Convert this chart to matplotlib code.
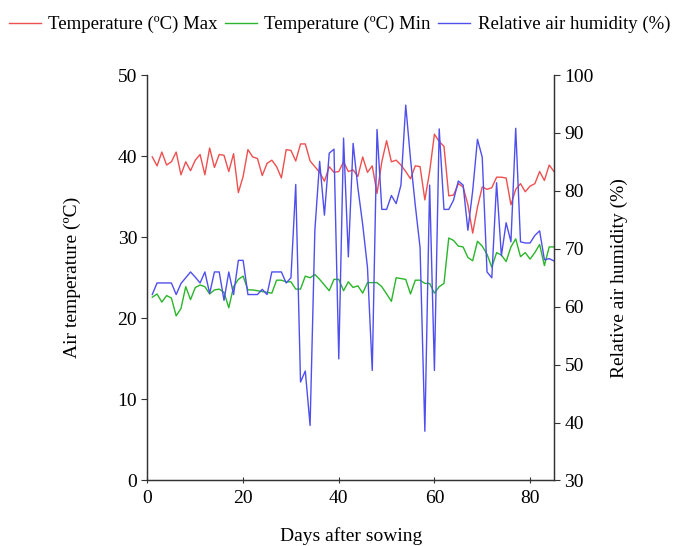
import matplotlib
matplotlib.use("Agg")
import matplotlib.pyplot as plt

plt.rcParams["font.family"] = ["Liberation Serif", "DejaVu Serif"]
plt.rcParams["font.size"] = 14

# daily records, days 1..85
days = list(range(1, 86))

t_max = [39.9, 38.8, 40.5, 38.9, 39.3, 40.5, 37.7, 39.3, 38.2, 39.5,
         40.2, 37.7, 41.0, 38.6, 40.2, 40.1, 38.1, 40.3, 35.5, 37.5,
         40.8, 39.9, 39.7, 37.6, 39.1, 39.5, 38.7, 37.3, 40.8, 40.7,
         39.4, 41.5, 41.5, 39.4, 38.7, 38.0, 36.9, 38.7, 38.0, 38.1,
         39.3, 38.1, 38.3, 37.5, 39.9, 38.0, 38.8, 35.4, 39.3, 41.9,
         39.3, 39.5, 38.9, 38.1, 37.2, 38.8, 38.7, 34.6, 38.1, 42.7,
         41.8, 41.2, 35.1, 35.2, 36.6, 36.2, 34.0, 30.5, 33.7, 36.2,
         35.9, 36.1, 37.4, 37.4, 37.3, 34.0, 35.9, 36.6, 35.6, 36.3,
         36.6, 38.1, 37.0, 38.9, 38.1]

t_min = [22.6, 23.0, 22.0, 22.8, 22.5, 20.3, 21.2, 23.9, 22.3, 23.8,
         24.1, 23.9, 23.0, 23.5, 23.6, 23.2, 21.3, 23.9, 24.8, 25.2,
         23.5, 23.5, 23.4, 23.3, 23.2, 23.1, 24.7, 24.7, 24.5, 24.5,
         23.6, 23.6, 25.2, 25.0, 25.4, 24.8, 24.1, 23.4, 24.8, 24.8,
         23.4, 24.5, 23.8, 24.0, 23.1, 24.4, 24.4, 24.4, 23.9, 23.0,
         22.1, 25.0, 24.9, 24.8, 23.0, 24.7, 24.7, 24.3, 24.3, 23.1,
         23.9, 24.3, 29.9, 29.6, 28.9, 28.8, 27.5, 27.1, 29.5, 28.9,
         27.9, 26.3, 28.1, 27.8, 27.0, 28.8, 29.8, 27.6, 28.1, 27.3,
         28.1, 29.1, 26.5, 28.8, 28.8]

humidity = [62.1, 64.1, 64.1, 64.1, 64.1, 62.1, 64.0, 65.0, 66.0, 65.1,
            64.1, 66.0, 62.3, 66.0, 66.0, 61.1, 66.0, 62.1, 68.0, 68.0,
            62.1, 62.1, 62.1, 63.0, 62.1, 66.0, 66.0, 66.0, 64.1, 65.0,
            81.1, 47.0, 48.9, 39.5, 73.2, 85.1, 75.8, 86.5, 87.2, 51.0,
            89.1, 68.6, 88.2, 80.5, 74.2, 66.8, 49.0, 90.6, 76.8, 76.8,
            79.2, 77.8, 81.0, 94.8, 85.5, 77.5, 70.2, 38.5, 81.0, 49.0,
            90.7, 76.8, 76.8, 78.4, 81.7, 81.0, 73.2, 80.0, 88.9, 85.8,
            66.0, 65.0, 81.4, 68.8, 74.5, 71.2, 90.8, 71.2, 71.0, 71.0,
            72.3, 73.1, 68.1, 68.3, 67.9]

RED = "#ee4f4f"
GREEN = "#2ab52a"
BLUE = "#4f4fee"
INK = "#333333"

fig = plt.figure(figsize=(6.75, 5.46), dpi=100)
ax = fig.add_axes([0.2185, 0.12, 0.6022, 0.7426])
ax2 = ax.twinx()

l1, = ax.plot(days, t_max, color=RED, lw=1.0, label="Temperature (ºC) Max")
l2, = ax.plot(days, t_min, color=GREEN, lw=1.0, label="Temperature (ºC) Min")
l3, = ax2.plot(days, humidity, color=BLUE, lw=1.0, label="Relative air humidity (%)")

ax.set_xlim(0, 85)
ax.set_ylim(0, 50)
ax2.set_ylim(30, 100)
ax.set_xticks([0, 20, 40, 60, 80])
ax.set_yticks(range(0, 51, 10))
ax2.set_yticks(range(30, 101, 10))

for a in (ax, ax2):
    a.spines["top"].set_visible(False)
    for s in ("left", "right", "bottom"):
        a.spines[s].set_color(INK)
        a.spines[s].set_linewidth(0.9)
ax.tick_params(axis="x", direction="inout", length=4, width=0.8, color=INK, pad=5)
ax.tick_params(axis="y", direction="out", length=4, width=0.8, color=INK)
ax2.tick_params(axis="y", direction="out", length=4, width=0.8, color=INK)

ax.set_xlabel("Days after sowing")
ax.xaxis.set_label_coords(0.5, -0.116)
ax.set_ylabel("Air temperature (ºC)")
ax.yaxis.set_label_coords(-0.164, 0.5)
ax2.set_ylabel("Relative air humidity (%)")
ax2.yaxis.set_label_coords(1.14, 0.5)

fig.legend(handles=[l1, l2, l3], loc="upper center", bbox_to_anchor=(0.503, 1.0),
           ncol=3, frameon=False, fontsize=13.5, handlelength=1.7,
           handletextpad=0.4, columnspacing=0.4, borderaxespad=0.45)

fig.savefig("out.png", dpi=100)
